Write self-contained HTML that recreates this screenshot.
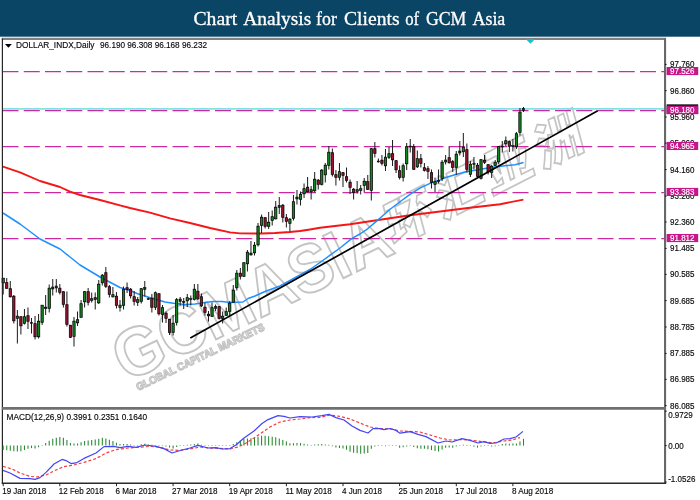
<!DOCTYPE html>
<html lang="en"><head><meta charset="utf-8"><title>Chart Analysis for Clients of GCM Asia</title>
<style>
html,body{margin:0;padding:0;background:#fff;width:700px;height:500px;overflow:hidden}
svg{display:block}
.ax{font-family:"Liberation Sans","DejaVu Sans",sans-serif;font-size:8.6px;fill:#0a0a0a;stroke:#0a0a0a;stroke-width:.15px}
.ax line{stroke-width:1px}
.lb{font-family:"Liberation Sans","DejaVu Sans",sans-serif;font-size:8.6px;fill:#fff;stroke:#fff;stroke-width:.15px}
.ttl{font-family:"Liberation Serif","DejaVu Serif",serif;font-size:19px;fill:#fff;stroke:#fff;stroke-width:.3px}
.wm{font-family:"Liberation Sans","Noto Sans CJK SC",sans-serif;font-weight:bold;fill:none;stroke:#c4c4c4}
</style></head><body>
<svg width="700" height="500" viewBox="0 0 700 500">
<rect width="700" height="500" fill="#fff"/>
<rect x="0" y="0" width="700" height="36.7" fill="#0b4566"/>
<text class="ttl" y="25"><tspan x="193.5" textLength="43.7" lengthAdjust="spacingAndGlyphs">Chart</tspan> <tspan x="243.3" textLength="68.0" lengthAdjust="spacingAndGlyphs">Analysis</tspan> <tspan x="316.1" textLength="20.7" lengthAdjust="spacingAndGlyphs">for</tspan> <tspan x="344" textLength="55.6" lengthAdjust="spacingAndGlyphs">Clients</tspan> <tspan x="405.2" textLength="13.9" lengthAdjust="spacingAndGlyphs">of</tspan> <tspan x="425.9" textLength="40.5" lengthAdjust="spacingAndGlyphs">GCM</tspan> <tspan x="472.5" textLength="32.8" lengthAdjust="spacingAndGlyphs">Asia</tspan></text>
<g class="wm" transform="translate(126.5,382.5) rotate(-25.7)">
<text x="0" y="0" font-size="68" stroke-width="1.9" textLength="300" lengthAdjust="spacingAndGlyphs">GCMASIA</text>
<text transform="translate(296,-8.5) rotate(-1.3) skewX(-12)" x="3 59 115 171" y="0" font-size="49" font-weight="900" stroke-width="1.7">环汇亚洲</text>
<text x="7" y="12.6" font-size="10.5" stroke-width="1.2" textLength="141" lengthAdjust="spacingAndGlyphs">GLOBAL CAPITAL MARKETS</text>
</g>
<g stroke="#cc2a9e" stroke-width="1.25" stroke-dasharray="16 5.25" fill="none">
<line x1="2.5" y1="71.6" x2="664" y2="71.6"/>
<line x1="2.5" y1="110.7" x2="664" y2="110.7"/>
<line x1="2.5" y1="146.5" x2="664" y2="146.5"/>
<line x1="2.5" y1="192.5" x2="664" y2="192.5"/>
<line x1="2.5" y1="238.6" x2="664" y2="238.6"/>
</g>
<line x1="3" y1="108.9" x2="665" y2="108.9" stroke="#7fe3e6" stroke-width="1.8"/>
<polyline points="3.0,166.6 20.0,172.4 40.0,181.0 60.0,187.0 70.0,191.6 80.0,195.0 100.0,200.0 120.0,205.4 130.0,208.0 150.0,212.6 170.0,218.4 190.0,223.0 210.0,228.0 230.0,232.4 240.0,233.4 262.0,233.5 275.0,233.0 290.0,232.0 300.0,231.0 310.0,229.5 320.0,227.8 335.0,226.0 350.0,224.3 380.0,219.8 410.0,215.3 440.0,211.5 470.0,207.8 500.0,204.2 523.4,199.6" fill="none" stroke="#f51616" stroke-width="1.9" stroke-linejoin="round"/>
<polyline points="3.0,213.0 20.0,224.0 40.0,239.0 60.0,249.0 70.0,257.0 80.0,265.0 100.0,277.0 120.0,287.5 130.0,290.5 137.0,293.5 151.0,298.0 165.0,302.0 175.0,303.5 185.0,304.5 195.0,304.0 205.0,302.5 213.0,301.5 222.0,301.5 230.0,302.5 243.0,302.0 248.0,298.5 255.0,296.0 265.0,291.5 280.0,286.0 290.0,280.5 310.0,269.5 320.0,262.5 340.0,248.0 352.0,238.4 360.0,234.0 367.6,228.8 376.0,221.6 383.0,215.5 390.4,209.0 402.4,200.0 410.0,194.3 420.0,188.2 430.0,183.3 440.0,180.0 445.0,177.8 455.0,174.7 465.0,172.0 475.0,170.3 485.0,168.5 495.0,167.0 505.0,165.7 515.0,164.7 523.5,162.5" fill="none" stroke="#1e90ff" stroke-width="1.5" stroke-linejoin="round"/>
<g stroke="#000">
<line x1="3.20" y1="278" x2="3.20" y2="294.5" stroke="#1a1a1a" stroke-width="1"/>
<rect x="2.05" y="278.2" width="2.3" height="4.6" fill="#12861f" stroke-width="0.75"/>
<line x1="6.74" y1="278" x2="6.74" y2="288.5" stroke="#1a1a1a" stroke-width="1"/>
<rect x="5.59" y="282.7" width="2.3" height="5.6" fill="#9e1230" stroke-width="0.75"/>
<line x1="10.28" y1="281" x2="10.28" y2="297.5" stroke="#1a1a1a" stroke-width="1"/>
<rect x="9.13" y="288.7" width="2.3" height="8.1" fill="#9e1230" stroke-width="0.75"/>
<line x1="13.82" y1="295" x2="13.82" y2="323.5" stroke="#1a1a1a" stroke-width="1"/>
<rect x="12.67" y="296.2" width="2.3" height="24.6" fill="#9e1230" stroke-width="0.75"/>
<line x1="17.36" y1="310" x2="17.36" y2="343.5" stroke="#1a1a1a" stroke-width="1"/>
<rect x="16.21" y="316.2" width="2.3" height="2.1" fill="#12861f" stroke-width="0.75"/>
<line x1="20.90" y1="316.5" x2="20.90" y2="334.5" stroke="#1a1a1a" stroke-width="1"/>
<rect x="19.75" y="316.7" width="2.3" height="9.1" fill="#9e1230" stroke-width="0.75"/>
<line x1="24.44" y1="309" x2="24.44" y2="324.5" stroke="#1a1a1a" stroke-width="1"/>
<rect x="23.29" y="316.7" width="2.3" height="6.6" fill="#12861f" stroke-width="0.75"/>
<line x1="27.98" y1="307.5" x2="27.98" y2="329" stroke="#1a1a1a" stroke-width="1"/>
<rect x="26.83" y="315.7" width="2.3" height="5.6" fill="#9e1230" stroke-width="0.75"/>
<line x1="31.52" y1="318" x2="31.52" y2="333.5" stroke="#1a1a1a" stroke-width="1"/>
<rect x="30.32" y="322.5" width="2.4" height="1.0" fill="#0a3a10" stroke-width="0.5"/>
<line x1="35.06" y1="316" x2="35.06" y2="339.5" stroke="#1a1a1a" stroke-width="1"/>
<rect x="33.91" y="323.7" width="2.3" height="13.1" fill="#9e1230" stroke-width="0.75"/>
<line x1="38.59" y1="314" x2="38.59" y2="338.5" stroke="#1a1a1a" stroke-width="1"/>
<rect x="37.45" y="321.2" width="2.3" height="15.6" fill="#12861f" stroke-width="0.75"/>
<line x1="42.13" y1="305" x2="42.13" y2="325" stroke="#1a1a1a" stroke-width="1"/>
<rect x="40.98" y="305.2" width="2.3" height="17.1" fill="#12861f" stroke-width="0.75"/>
<line x1="45.67" y1="295" x2="45.67" y2="315" stroke="#1a1a1a" stroke-width="1"/>
<rect x="44.52" y="307.2" width="2.3" height="1.1" fill="#12861f" stroke-width="0.75"/>
<line x1="49.21" y1="284.5" x2="49.21" y2="312.5" stroke="#1a1a1a" stroke-width="1"/>
<rect x="48.06" y="288.2" width="2.3" height="20.1" fill="#12861f" stroke-width="0.75"/>
<line x1="52.75" y1="279" x2="52.75" y2="295.5" stroke="#1a1a1a" stroke-width="1"/>
<rect x="51.55" y="287" width="2.4" height="2" fill="#0a3a10" stroke-width="0.5"/>
<line x1="56.29" y1="279" x2="56.29" y2="292.5" stroke="#1a1a1a" stroke-width="1"/>
<rect x="55.09" y="286" width="2.4" height="2" fill="#0a3a10" stroke-width="0.5"/>
<line x1="59.83" y1="284" x2="59.83" y2="294.5" stroke="#1a1a1a" stroke-width="1"/>
<rect x="58.68" y="288.2" width="2.3" height="4.1" fill="#9e1230" stroke-width="0.75"/>
<line x1="63.37" y1="291.5" x2="63.37" y2="307.5" stroke="#1a1a1a" stroke-width="1"/>
<rect x="62.22" y="291.7" width="2.3" height="12.6" fill="#9e1230" stroke-width="0.75"/>
<line x1="66.91" y1="291.5" x2="66.91" y2="326.5" stroke="#1a1a1a" stroke-width="1"/>
<rect x="65.76" y="304.7" width="2.3" height="19.6" fill="#9e1230" stroke-width="0.75"/>
<line x1="70.45" y1="325" x2="70.45" y2="338" stroke="#1a1a1a" stroke-width="1"/>
<rect x="69.30" y="325.2" width="2.3" height="12.1" fill="#9e1230" stroke-width="0.75"/>
<line x1="73.99" y1="317" x2="73.99" y2="346.5" stroke="#1a1a1a" stroke-width="1"/>
<rect x="72.84" y="321.2" width="2.3" height="15.1" fill="#12861f" stroke-width="0.75"/>
<line x1="77.53" y1="311.5" x2="77.53" y2="326" stroke="#1a1a1a" stroke-width="1"/>
<rect x="76.38" y="319.7" width="2.3" height="3.1" fill="#12861f" stroke-width="0.75"/>
<line x1="81.07" y1="300" x2="81.07" y2="317.5" stroke="#1a1a1a" stroke-width="1"/>
<rect x="79.92" y="303.7" width="2.3" height="13.6" fill="#12861f" stroke-width="0.75"/>
<line x1="84.61" y1="291" x2="84.61" y2="307.5" stroke="#1a1a1a" stroke-width="1"/>
<rect x="83.46" y="291.7" width="2.3" height="10.1" fill="#12861f" stroke-width="0.75"/>
<line x1="88.15" y1="288" x2="88.15" y2="305.5" stroke="#1a1a1a" stroke-width="1"/>
<rect x="87.00" y="291.7" width="2.3" height="10.6" fill="#9e1230" stroke-width="0.75"/>
<line x1="91.69" y1="292.5" x2="91.69" y2="302.5" stroke="#1a1a1a" stroke-width="1"/>
<rect x="90.54" y="298.7" width="2.3" height="1.6" fill="#12861f" stroke-width="0.75"/>
<line x1="95.23" y1="292.5" x2="95.23" y2="309.5" stroke="#1a1a1a" stroke-width="1"/>
<rect x="94.08" y="297.7" width="2.3" height="1.6" fill="#9e1230" stroke-width="0.75"/>
<line x1="98.77" y1="280" x2="98.77" y2="304" stroke="#1a1a1a" stroke-width="1"/>
<rect x="97.62" y="284.2" width="2.3" height="18.6" fill="#12861f" stroke-width="0.75"/>
<line x1="102.31" y1="274" x2="102.31" y2="285.5" stroke="#1a1a1a" stroke-width="1"/>
<rect x="101.16" y="275.2" width="2.3" height="7.6" fill="#12861f" stroke-width="0.75"/>
<line x1="105.85" y1="267" x2="105.85" y2="288" stroke="#1a1a1a" stroke-width="1"/>
<rect x="104.70" y="272.7" width="2.3" height="13.6" fill="#9e1230" stroke-width="0.75"/>
<line x1="109.39" y1="285" x2="109.39" y2="297.5" stroke="#1a1a1a" stroke-width="1"/>
<rect x="108.23" y="286.7" width="2.3" height="7.6" fill="#9e1230" stroke-width="0.75"/>
<line x1="112.92" y1="287" x2="112.92" y2="297.5" stroke="#1a1a1a" stroke-width="1"/>
<rect x="111.77" y="294.7" width="2.3" height="2.1" fill="#12861f" stroke-width="0.75"/>
<line x1="116.46" y1="292" x2="116.46" y2="308.5" stroke="#1a1a1a" stroke-width="1"/>
<rect x="115.31" y="296.2" width="2.3" height="9.1" fill="#9e1230" stroke-width="0.75"/>
<line x1="120.00" y1="300" x2="120.00" y2="311.5" stroke="#1a1a1a" stroke-width="1"/>
<rect x="118.85" y="305.2" width="2.3" height="2.1" fill="#12861f" stroke-width="0.75"/>
<line x1="123.54" y1="286.5" x2="123.54" y2="309.5" stroke="#1a1a1a" stroke-width="1"/>
<rect x="122.39" y="289.2" width="2.3" height="16.1" fill="#12861f" stroke-width="0.75"/>
<line x1="127.08" y1="282.5" x2="127.08" y2="293" stroke="#1a1a1a" stroke-width="1"/>
<rect x="125.93" y="287.7" width="2.3" height="1.6" fill="#9e1230" stroke-width="0.75"/>
<line x1="130.62" y1="288" x2="130.62" y2="298.5" stroke="#1a1a1a" stroke-width="1"/>
<rect x="129.47" y="289.2" width="2.3" height="6.6" fill="#9e1230" stroke-width="0.75"/>
<line x1="134.16" y1="291" x2="134.16" y2="305.5" stroke="#1a1a1a" stroke-width="1"/>
<rect x="133.01" y="296.7" width="2.3" height="4.6" fill="#9e1230" stroke-width="0.75"/>
<line x1="137.70" y1="297" x2="137.70" y2="306" stroke="#1a1a1a" stroke-width="1"/>
<rect x="136.55" y="299.7" width="2.3" height="2.6" fill="#12861f" stroke-width="0.75"/>
<line x1="141.24" y1="288" x2="141.24" y2="303.5" stroke="#1a1a1a" stroke-width="1"/>
<rect x="140.09" y="288.7" width="2.3" height="12.6" fill="#12861f" stroke-width="0.75"/>
<line x1="144.78" y1="281" x2="144.78" y2="296.5" stroke="#1a1a1a" stroke-width="1"/>
<rect x="143.58" y="287.5" width="2.4" height="2.0" fill="#0a3a10" stroke-width="0.5"/>
<line x1="148.32" y1="297.5" x2="148.32" y2="300" stroke="#1a1a1a" stroke-width="1"/>
<rect x="147.12" y="298.5" width="2.4" height="1.0" fill="#0a3a10" stroke-width="0.5"/>
<line x1="151.86" y1="294" x2="151.86" y2="312.5" stroke="#1a1a1a" stroke-width="1"/>
<rect x="150.71" y="298.2" width="2.3" height="9.1" fill="#9e1230" stroke-width="0.75"/>
<line x1="155.40" y1="291.5" x2="155.40" y2="310" stroke="#1a1a1a" stroke-width="1"/>
<rect x="154.25" y="292.7" width="2.3" height="14.6" fill="#12861f" stroke-width="0.75"/>
<line x1="158.94" y1="293.5" x2="158.94" y2="315.5" stroke="#1a1a1a" stroke-width="1"/>
<rect x="157.79" y="293.7" width="2.3" height="20.1" fill="#9e1230" stroke-width="0.75"/>
<line x1="162.48" y1="305" x2="162.48" y2="322.5" stroke="#1a1a1a" stroke-width="1"/>
<rect x="161.33" y="307.7" width="2.3" height="6.6" fill="#12861f" stroke-width="0.75"/>
<line x1="166.02" y1="311.5" x2="166.02" y2="323" stroke="#1a1a1a" stroke-width="1"/>
<rect x="164.87" y="313.2" width="2.3" height="5.1" fill="#9e1230" stroke-width="0.75"/>
<line x1="169.56" y1="319" x2="169.56" y2="335" stroke="#1a1a1a" stroke-width="1"/>
<rect x="168.41" y="319.2" width="2.3" height="13.1" fill="#9e1230" stroke-width="0.75"/>
<line x1="173.10" y1="315" x2="173.10" y2="335.5" stroke="#1a1a1a" stroke-width="1"/>
<rect x="171.95" y="323.2" width="2.3" height="9.1" fill="#12861f" stroke-width="0.75"/>
<line x1="176.64" y1="298" x2="176.64" y2="325.5" stroke="#1a1a1a" stroke-width="1"/>
<rect x="175.49" y="299.7" width="2.3" height="22.6" fill="#12861f" stroke-width="0.75"/>
<line x1="180.17" y1="297" x2="180.17" y2="305.5" stroke="#1a1a1a" stroke-width="1"/>
<rect x="178.97" y="299" width="2.4" height="2.5" fill="#0a3a10" stroke-width="0.5"/>
<line x1="183.71" y1="298" x2="183.71" y2="309" stroke="#1a1a1a" stroke-width="1"/>
<rect x="182.51" y="301.5" width="2.4" height="1.0" fill="#0a3a10" stroke-width="0.5"/>
<line x1="187.25" y1="294" x2="187.25" y2="307" stroke="#1a1a1a" stroke-width="1"/>
<rect x="186.10" y="297.7" width="2.3" height="3.1" fill="#12861f" stroke-width="0.75"/>
<line x1="190.79" y1="295.5" x2="190.79" y2="305.5" stroke="#1a1a1a" stroke-width="1"/>
<rect x="189.59" y="298.5" width="2.4" height="1.0" fill="#0a3a10" stroke-width="0.5"/>
<line x1="194.33" y1="284" x2="194.33" y2="300.5" stroke="#1a1a1a" stroke-width="1"/>
<rect x="193.18" y="289.2" width="2.3" height="10.1" fill="#12861f" stroke-width="0.75"/>
<line x1="197.87" y1="284" x2="197.87" y2="300" stroke="#1a1a1a" stroke-width="1"/>
<rect x="196.72" y="291.2" width="2.3" height="7.6" fill="#9e1230" stroke-width="0.75"/>
<line x1="201.41" y1="293.5" x2="201.41" y2="307" stroke="#1a1a1a" stroke-width="1"/>
<rect x="200.26" y="296.7" width="2.3" height="9.1" fill="#9e1230" stroke-width="0.75"/>
<line x1="204.95" y1="302.5" x2="204.95" y2="315.5" stroke="#1a1a1a" stroke-width="1"/>
<rect x="203.80" y="307.2" width="2.3" height="5.1" fill="#9e1230" stroke-width="0.75"/>
<line x1="208.49" y1="311" x2="208.49" y2="321.5" stroke="#1a1a1a" stroke-width="1"/>
<rect x="207.34" y="314.2" width="2.3" height="1.6" fill="#9e1230" stroke-width="0.75"/>
<line x1="212.03" y1="302.5" x2="212.03" y2="317" stroke="#1a1a1a" stroke-width="1"/>
<rect x="210.88" y="307.7" width="2.3" height="8.6" fill="#12861f" stroke-width="0.75"/>
<line x1="215.57" y1="304.5" x2="215.57" y2="311" stroke="#1a1a1a" stroke-width="1"/>
<rect x="214.37" y="306.5" width="2.4" height="2.0" fill="#0a3a10" stroke-width="0.5"/>
<line x1="219.11" y1="306" x2="219.11" y2="319.5" stroke="#1a1a1a" stroke-width="1"/>
<rect x="217.96" y="306.7" width="2.3" height="11.6" fill="#9e1230" stroke-width="0.75"/>
<line x1="222.65" y1="311.5" x2="222.65" y2="323.5" stroke="#1a1a1a" stroke-width="1"/>
<rect x="221.50" y="316.2" width="2.3" height="2.1" fill="#12861f" stroke-width="0.75"/>
<line x1="226.19" y1="307.5" x2="226.19" y2="316" stroke="#1a1a1a" stroke-width="1"/>
<rect x="225.04" y="311.7" width="2.3" height="3.6" fill="#12861f" stroke-width="0.75"/>
<line x1="229.73" y1="301" x2="229.73" y2="315.5" stroke="#1a1a1a" stroke-width="1"/>
<rect x="228.58" y="303.2" width="2.3" height="8.1" fill="#12861f" stroke-width="0.75"/>
<line x1="233.27" y1="285" x2="233.27" y2="302.5" stroke="#1a1a1a" stroke-width="1"/>
<rect x="232.12" y="290.2" width="2.3" height="12.1" fill="#12861f" stroke-width="0.75"/>
<line x1="236.81" y1="270" x2="236.81" y2="290.5" stroke="#1a1a1a" stroke-width="1"/>
<rect x="235.66" y="273.2" width="2.3" height="14.6" fill="#12861f" stroke-width="0.75"/>
<line x1="240.35" y1="268" x2="240.35" y2="279.5" stroke="#1a1a1a" stroke-width="1"/>
<rect x="239.20" y="273.2" width="2.3" height="3.1" fill="#9e1230" stroke-width="0.75"/>
<line x1="243.89" y1="262.5" x2="243.89" y2="277" stroke="#1a1a1a" stroke-width="1"/>
<rect x="242.74" y="262.7" width="2.3" height="13.6" fill="#12861f" stroke-width="0.75"/>
<line x1="247.43" y1="250" x2="247.43" y2="271.5" stroke="#1a1a1a" stroke-width="1"/>
<rect x="246.28" y="252.2" width="2.3" height="11.6" fill="#12861f" stroke-width="0.75"/>
<line x1="250.96" y1="241" x2="250.96" y2="255.5" stroke="#1a1a1a" stroke-width="1"/>
<rect x="249.76" y="253" width="2.4" height="2" fill="#0a3a10" stroke-width="0.5"/>
<line x1="254.50" y1="242" x2="254.50" y2="255.5" stroke="#1a1a1a" stroke-width="1"/>
<rect x="253.35" y="245.2" width="2.3" height="7.6" fill="#12861f" stroke-width="0.75"/>
<line x1="258.04" y1="223" x2="258.04" y2="246.5" stroke="#1a1a1a" stroke-width="1"/>
<rect x="256.89" y="226.2" width="2.3" height="18.6" fill="#12861f" stroke-width="0.75"/>
<line x1="261.58" y1="214.5" x2="261.58" y2="233" stroke="#1a1a1a" stroke-width="1"/>
<rect x="260.43" y="217.2" width="2.3" height="8.1" fill="#12861f" stroke-width="0.75"/>
<line x1="265.12" y1="217" x2="265.12" y2="228.5" stroke="#1a1a1a" stroke-width="1"/>
<rect x="263.97" y="217.7" width="2.3" height="8.6" fill="#9e1230" stroke-width="0.75"/>
<line x1="268.66" y1="212" x2="268.66" y2="229" stroke="#1a1a1a" stroke-width="1"/>
<rect x="267.51" y="222.2" width="2.3" height="4.1" fill="#12861f" stroke-width="0.75"/>
<line x1="272.20" y1="210.5" x2="272.20" y2="225.5" stroke="#1a1a1a" stroke-width="1"/>
<rect x="271.05" y="216.7" width="2.3" height="3.6" fill="#12861f" stroke-width="0.75"/>
<line x1="275.74" y1="201" x2="275.74" y2="219.5" stroke="#1a1a1a" stroke-width="1"/>
<rect x="274.59" y="207.2" width="2.3" height="11.6" fill="#12861f" stroke-width="0.75"/>
<line x1="279.28" y1="197" x2="279.28" y2="214" stroke="#1a1a1a" stroke-width="1"/>
<rect x="278.08" y="205.5" width="2.4" height="2.0" fill="#0a3a10" stroke-width="0.5"/>
<line x1="282.82" y1="204" x2="282.82" y2="222.5" stroke="#1a1a1a" stroke-width="1"/>
<rect x="281.67" y="205.2" width="2.3" height="12.1" fill="#9e1230" stroke-width="0.75"/>
<line x1="286.36" y1="214" x2="286.36" y2="227.5" stroke="#1a1a1a" stroke-width="1"/>
<rect x="285.21" y="217.7" width="2.3" height="3.6" fill="#9e1230" stroke-width="0.75"/>
<line x1="289.90" y1="218" x2="289.90" y2="231.5" stroke="#1a1a1a" stroke-width="1"/>
<rect x="288.75" y="219.2" width="2.3" height="4.1" fill="#12861f" stroke-width="0.75"/>
<line x1="293.44" y1="195" x2="293.44" y2="220.5" stroke="#1a1a1a" stroke-width="1"/>
<rect x="292.29" y="201.7" width="2.3" height="16.6" fill="#12861f" stroke-width="0.75"/>
<line x1="296.98" y1="190" x2="296.98" y2="204.5" stroke="#1a1a1a" stroke-width="1"/>
<rect x="295.78" y="197" width="2.4" height="2" fill="#0a3a10" stroke-width="0.5"/>
<line x1="300.52" y1="191.5" x2="300.52" y2="205.5" stroke="#1a1a1a" stroke-width="1"/>
<rect x="299.37" y="194.2" width="2.3" height="5.1" fill="#12861f" stroke-width="0.75"/>
<line x1="304.06" y1="183.5" x2="304.06" y2="198" stroke="#1a1a1a" stroke-width="1"/>
<rect x="302.91" y="188.7" width="2.3" height="5.1" fill="#12861f" stroke-width="0.75"/>
<line x1="307.60" y1="177" x2="307.60" y2="192.5" stroke="#1a1a1a" stroke-width="1"/>
<rect x="306.45" y="187.2" width="2.3" height="4.6" fill="#9e1230" stroke-width="0.75"/>
<line x1="311.14" y1="186" x2="311.14" y2="199.5" stroke="#1a1a1a" stroke-width="1"/>
<rect x="309.99" y="189.7" width="2.3" height="2.1" fill="#12861f" stroke-width="0.75"/>
<line x1="314.68" y1="172" x2="314.68" y2="192.5" stroke="#1a1a1a" stroke-width="1"/>
<rect x="313.53" y="179.2" width="2.3" height="11.6" fill="#12861f" stroke-width="0.75"/>
<line x1="318.22" y1="179" x2="318.22" y2="189.5" stroke="#1a1a1a" stroke-width="1"/>
<rect x="317.07" y="180.2" width="2.3" height="4.1" fill="#9e1230" stroke-width="0.75"/>
<line x1="321.75" y1="169" x2="321.75" y2="185.5" stroke="#1a1a1a" stroke-width="1"/>
<rect x="320.61" y="170.2" width="2.3" height="14.1" fill="#12861f" stroke-width="0.75"/>
<line x1="325.29" y1="163" x2="325.29" y2="182.5" stroke="#1a1a1a" stroke-width="1"/>
<rect x="324.14" y="165.2" width="2.3" height="9.6" fill="#12861f" stroke-width="0.75"/>
<line x1="328.83" y1="146" x2="328.83" y2="169.5" stroke="#1a1a1a" stroke-width="1"/>
<rect x="327.68" y="152.2" width="2.3" height="13.1" fill="#12861f" stroke-width="0.75"/>
<line x1="332.37" y1="148.5" x2="332.37" y2="176.5" stroke="#1a1a1a" stroke-width="1"/>
<rect x="331.22" y="152.7" width="2.3" height="21.6" fill="#9e1230" stroke-width="0.75"/>
<line x1="335.91" y1="170" x2="335.91" y2="185.5" stroke="#1a1a1a" stroke-width="1"/>
<rect x="334.76" y="174.7" width="2.3" height="2.6" fill="#9e1230" stroke-width="0.75"/>
<line x1="339.45" y1="163" x2="339.45" y2="180.5" stroke="#1a1a1a" stroke-width="1"/>
<rect x="338.30" y="171.7" width="2.3" height="5.6" fill="#12861f" stroke-width="0.75"/>
<line x1="342.99" y1="172" x2="342.99" y2="187" stroke="#1a1a1a" stroke-width="1"/>
<rect x="341.84" y="172.7" width="2.3" height="2.6" fill="#9e1230" stroke-width="0.75"/>
<line x1="346.53" y1="167.5" x2="346.53" y2="182.5" stroke="#1a1a1a" stroke-width="1"/>
<rect x="345.38" y="176.7" width="2.3" height="3.6" fill="#9e1230" stroke-width="0.75"/>
<line x1="350.07" y1="179.5" x2="350.07" y2="194" stroke="#1a1a1a" stroke-width="1"/>
<rect x="348.92" y="182.2" width="2.3" height="5.1" fill="#9e1230" stroke-width="0.75"/>
<line x1="353.61" y1="188" x2="353.61" y2="199.5" stroke="#1a1a1a" stroke-width="1"/>
<rect x="352.46" y="189.2" width="2.3" height="3.1" fill="#9e1230" stroke-width="0.75"/>
<line x1="357.15" y1="181" x2="357.15" y2="193.5" stroke="#1a1a1a" stroke-width="1"/>
<rect x="356.00" y="189.7" width="2.3" height="1.6" fill="#12861f" stroke-width="0.75"/>
<line x1="360.69" y1="185" x2="360.69" y2="194.5" stroke="#1a1a1a" stroke-width="1"/>
<rect x="359.54" y="188.7" width="2.3" height="1.6" fill="#12861f" stroke-width="0.75"/>
<line x1="364.23" y1="178" x2="364.23" y2="192" stroke="#1a1a1a" stroke-width="1"/>
<rect x="363.08" y="181.2" width="2.3" height="4.1" fill="#12861f" stroke-width="0.75"/>
<line x1="367.77" y1="175" x2="367.77" y2="190" stroke="#1a1a1a" stroke-width="1"/>
<rect x="366.62" y="181.7" width="2.3" height="7.6" fill="#9e1230" stroke-width="0.75"/>
<line x1="371.31" y1="148" x2="371.31" y2="200.5" stroke="#1a1a1a" stroke-width="1"/>
<rect x="370.16" y="148.7" width="2.3" height="41.6" fill="#12861f" stroke-width="0.75"/>
<line x1="374.85" y1="142" x2="374.85" y2="157.5" stroke="#1a1a1a" stroke-width="1"/>
<rect x="373.70" y="148.7" width="2.3" height="4.6" fill="#9e1230" stroke-width="0.75"/>
<line x1="378.39" y1="158.5" x2="378.39" y2="162.5" stroke="#1a1a1a" stroke-width="1"/>
<rect x="377.19" y="161" width="2.4" height="1" fill="#0a3a10" stroke-width="0.5"/>
<line x1="381.93" y1="155" x2="381.93" y2="165.5" stroke="#1a1a1a" stroke-width="1"/>
<rect x="380.78" y="160.2" width="2.3" height="3.1" fill="#9e1230" stroke-width="0.75"/>
<line x1="385.47" y1="149" x2="385.47" y2="171" stroke="#1a1a1a" stroke-width="1"/>
<rect x="384.32" y="157.2" width="2.3" height="8.6" fill="#12861f" stroke-width="0.75"/>
<line x1="389.01" y1="147" x2="389.01" y2="159" stroke="#1a1a1a" stroke-width="1"/>
<rect x="387.86" y="153.7" width="2.3" height="3.6" fill="#12861f" stroke-width="0.75"/>
<line x1="392.54" y1="140" x2="392.54" y2="166" stroke="#1a1a1a" stroke-width="1"/>
<rect x="391.39" y="153.7" width="2.3" height="6.1" fill="#9e1230" stroke-width="0.75"/>
<line x1="396.08" y1="160" x2="396.08" y2="173" stroke="#1a1a1a" stroke-width="1"/>
<rect x="394.93" y="160.7" width="2.3" height="9.1" fill="#9e1230" stroke-width="0.75"/>
<line x1="399.62" y1="165.5" x2="399.62" y2="179.5" stroke="#1a1a1a" stroke-width="1"/>
<rect x="398.47" y="170.7" width="2.3" height="6.6" fill="#9e1230" stroke-width="0.75"/>
<line x1="403.16" y1="163.5" x2="403.16" y2="181.5" stroke="#1a1a1a" stroke-width="1"/>
<rect x="402.01" y="165.7" width="2.3" height="11.6" fill="#12861f" stroke-width="0.75"/>
<line x1="406.70" y1="143" x2="406.70" y2="170" stroke="#1a1a1a" stroke-width="1"/>
<rect x="405.55" y="146.7" width="2.3" height="17.1" fill="#12861f" stroke-width="0.75"/>
<line x1="410.24" y1="139" x2="410.24" y2="152.5" stroke="#1a1a1a" stroke-width="1"/>
<rect x="409.04" y="146" width="2.4" height="1" fill="#0a3a10" stroke-width="0.5"/>
<line x1="413.78" y1="144" x2="413.78" y2="170" stroke="#1a1a1a" stroke-width="1"/>
<rect x="412.63" y="146.7" width="2.3" height="22.6" fill="#9e1230" stroke-width="0.75"/>
<line x1="417.32" y1="150.5" x2="417.32" y2="168" stroke="#1a1a1a" stroke-width="1"/>
<rect x="416.17" y="158.7" width="2.3" height="8.1" fill="#12861f" stroke-width="0.75"/>
<line x1="420.86" y1="154" x2="420.86" y2="167.5" stroke="#1a1a1a" stroke-width="1"/>
<rect x="419.71" y="158.7" width="2.3" height="4.6" fill="#9e1230" stroke-width="0.75"/>
<line x1="424.40" y1="163" x2="424.40" y2="171.5" stroke="#1a1a1a" stroke-width="1"/>
<rect x="423.25" y="167.7" width="2.3" height="2.6" fill="#9e1230" stroke-width="0.75"/>
<line x1="427.94" y1="166" x2="427.94" y2="179" stroke="#1a1a1a" stroke-width="1"/>
<rect x="426.79" y="168.7" width="2.3" height="2.6" fill="#9e1230" stroke-width="0.75"/>
<line x1="431.48" y1="169.5" x2="431.48" y2="188.5" stroke="#1a1a1a" stroke-width="1"/>
<rect x="430.33" y="172.7" width="2.3" height="9.6" fill="#9e1230" stroke-width="0.75"/>
<line x1="435.02" y1="177.5" x2="435.02" y2="192" stroke="#1a1a1a" stroke-width="1"/>
<rect x="433.87" y="181.7" width="2.3" height="2.6" fill="#12861f" stroke-width="0.75"/>
<line x1="438.56" y1="169.5" x2="438.56" y2="183.5" stroke="#1a1a1a" stroke-width="1"/>
<rect x="437.36" y="180.5" width="2.4" height="1.0" fill="#0a3a10" stroke-width="0.5"/>
<line x1="442.10" y1="160" x2="442.10" y2="181" stroke="#1a1a1a" stroke-width="1"/>
<rect x="440.95" y="162.2" width="2.3" height="16.1" fill="#12861f" stroke-width="0.75"/>
<line x1="445.64" y1="155" x2="445.64" y2="164.5" stroke="#1a1a1a" stroke-width="1"/>
<rect x="444.44" y="160" width="2.4" height="2" fill="#0a3a10" stroke-width="0.5"/>
<line x1="449.18" y1="146.5" x2="449.18" y2="163.5" stroke="#1a1a1a" stroke-width="1"/>
<rect x="448.03" y="157.7" width="2.3" height="5.1" fill="#9e1230" stroke-width="0.75"/>
<line x1="452.72" y1="160" x2="452.72" y2="172" stroke="#1a1a1a" stroke-width="1"/>
<rect x="451.57" y="161.7" width="2.3" height="5.6" fill="#9e1230" stroke-width="0.75"/>
<line x1="456.26" y1="151" x2="456.26" y2="175" stroke="#1a1a1a" stroke-width="1"/>
<rect x="455.11" y="154.2" width="2.3" height="13.1" fill="#12861f" stroke-width="0.75"/>
<line x1="459.80" y1="141" x2="459.80" y2="155.5" stroke="#1a1a1a" stroke-width="1"/>
<rect x="458.60" y="151" width="2.4" height="2" fill="#0a3a10" stroke-width="0.5"/>
<line x1="463.33" y1="133" x2="463.33" y2="157" stroke="#1a1a1a" stroke-width="1"/>
<rect x="462.19" y="147.2" width="2.3" height="4.6" fill="#12861f" stroke-width="0.75"/>
<line x1="466.87" y1="143.5" x2="466.87" y2="172.5" stroke="#1a1a1a" stroke-width="1"/>
<rect x="465.72" y="149.7" width="2.3" height="19.6" fill="#9e1230" stroke-width="0.75"/>
<line x1="470.41" y1="161" x2="470.41" y2="177" stroke="#1a1a1a" stroke-width="1"/>
<rect x="469.26" y="164.2" width="2.3" height="10.1" fill="#12861f" stroke-width="0.75"/>
<line x1="473.95" y1="157" x2="473.95" y2="169.5" stroke="#1a1a1a" stroke-width="1"/>
<rect x="472.75" y="163.5" width="2.4" height="1.0" fill="#0a3a10" stroke-width="0.5"/>
<line x1="477.49" y1="163" x2="477.49" y2="177.5" stroke="#1a1a1a" stroke-width="1"/>
<rect x="476.34" y="165.2" width="2.3" height="11.1" fill="#9e1230" stroke-width="0.75"/>
<line x1="481.03" y1="159" x2="481.03" y2="179.5" stroke="#1a1a1a" stroke-width="1"/>
<rect x="479.88" y="159.7" width="2.3" height="18.6" fill="#12861f" stroke-width="0.75"/>
<line x1="484.57" y1="155" x2="484.57" y2="164" stroke="#1a1a1a" stroke-width="1"/>
<rect x="483.42" y="160.2" width="2.3" height="2.1" fill="#9e1230" stroke-width="0.75"/>
<line x1="488.11" y1="164" x2="488.11" y2="174.5" stroke="#1a1a1a" stroke-width="1"/>
<rect x="486.96" y="164.7" width="2.3" height="7.1" fill="#9e1230" stroke-width="0.75"/>
<line x1="491.65" y1="165" x2="491.65" y2="178" stroke="#1a1a1a" stroke-width="1"/>
<rect x="490.50" y="166.2" width="2.3" height="6.1" fill="#12861f" stroke-width="0.75"/>
<line x1="495.19" y1="160" x2="495.19" y2="166" stroke="#1a1a1a" stroke-width="1"/>
<rect x="494.04" y="162.2" width="2.3" height="3.1" fill="#12861f" stroke-width="0.75"/>
<line x1="498.73" y1="146" x2="498.73" y2="164" stroke="#1a1a1a" stroke-width="1"/>
<rect x="497.58" y="146.7" width="2.3" height="15.1" fill="#12861f" stroke-width="0.75"/>
<line x1="502.27" y1="141" x2="502.27" y2="152.5" stroke="#1a1a1a" stroke-width="1"/>
<rect x="501.07" y="146" width="2.4" height="1" fill="#0a3a10" stroke-width="0.5"/>
<line x1="505.81" y1="136.5" x2="505.81" y2="146" stroke="#1a1a1a" stroke-width="1"/>
<rect x="504.66" y="140.7" width="2.3" height="3.1" fill="#12861f" stroke-width="0.75"/>
<line x1="509.35" y1="140.5" x2="509.35" y2="152" stroke="#1a1a1a" stroke-width="1"/>
<rect x="508.20" y="141.7" width="2.3" height="4.6" fill="#9e1230" stroke-width="0.75"/>
<line x1="512.89" y1="139" x2="512.89" y2="151.5" stroke="#1a1a1a" stroke-width="1"/>
<rect x="511.69" y="145.5" width="2.4" height="1.0" fill="#0a3a10" stroke-width="0.5"/>
<line x1="516.43" y1="132" x2="516.43" y2="149" stroke="#1a1a1a" stroke-width="1"/>
<rect x="515.28" y="133.7" width="2.3" height="13.1" fill="#12861f" stroke-width="0.75"/>
<line x1="519.97" y1="108" x2="519.97" y2="135.5" stroke="#1a1a1a" stroke-width="1"/>
<rect x="518.82" y="112.2" width="2.3" height="20.1" fill="#12861f" stroke-width="0.75"/>
<line x1="523.51" y1="107" x2="523.51" y2="112" stroke="#1a1a1a" stroke-width="1"/>
<rect x="522.31" y="108.5" width="2.4" height="2.0" fill="#0a3a10" stroke-width="0.5"/>
</g>
<line x1="190.8" y1="337.7" x2="597.3" y2="111.1" stroke="#000" stroke-width="1.7" stroke-linecap="round"/>
<g fill="none">
<line x1="1.8" y1="38.85" x2="666" y2="38.85" stroke="#808080" stroke-width="2.2"/>
<line x1="2.4" y1="38.4" x2="2.4" y2="484" stroke="#262626" stroke-width="1.2"/>
<line x1="665.05" y1="38.4" x2="665.05" y2="484" stroke="#686868" stroke-width="2.1"/>
<line x1="1.8" y1="408.35" x2="666" y2="408.35" stroke="#707070" stroke-width="2.7"/>
<line x1="1.8" y1="483.25" x2="666.1" y2="483.25" stroke="#2a2a2a" stroke-width="1.4"/>
</g>
<polygon points="526,39.2 534.8,39.2 530.4,43.7" fill="#10c4cc"/>
<g class="ax">
<line x1="665" y1="64.4" x2="666.6" y2="64.4" stroke="#111"/>
<text x="670" y="67.3" textLength="24.5" lengthAdjust="spacingAndGlyphs">97.760</text>
<line x1="665" y1="90.6" x2="666.6" y2="90.6" stroke="#111"/>
<text x="670" y="93.5" textLength="24.5" lengthAdjust="spacingAndGlyphs">96.860</text>
<line x1="665" y1="117" x2="666.6" y2="117" stroke="#111"/>
<text x="670" y="119.9" textLength="24.5" lengthAdjust="spacingAndGlyphs">95.960</text>
<line x1="665" y1="143.2" x2="666.6" y2="143.2" stroke="#111"/>
<text x="670" y="146.1" textLength="24.5" lengthAdjust="spacingAndGlyphs">95.060</text>
<line x1="665" y1="169.6" x2="666.6" y2="169.6" stroke="#111"/>
<text x="670" y="172.5" textLength="24.5" lengthAdjust="spacingAndGlyphs">94.160</text>
<line x1="665" y1="196" x2="666.6" y2="196" stroke="#111"/>
<text x="670" y="198.9" textLength="24.5" lengthAdjust="spacingAndGlyphs">93.260</text>
<line x1="665" y1="222" x2="666.6" y2="222" stroke="#111"/>
<text x="670" y="224.9" textLength="24.5" lengthAdjust="spacingAndGlyphs">92.360</text>
<line x1="665" y1="248.4" x2="666.6" y2="248.4" stroke="#111"/>
<text x="670" y="251.3" textLength="24.5" lengthAdjust="spacingAndGlyphs">91.485</text>
<line x1="665" y1="274.4" x2="666.6" y2="274.4" stroke="#111"/>
<text x="670" y="277.3" textLength="24.5" lengthAdjust="spacingAndGlyphs">90.585</text>
<line x1="665" y1="300.6" x2="666.6" y2="300.6" stroke="#111"/>
<text x="670" y="303.5" textLength="24.5" lengthAdjust="spacingAndGlyphs">89.685</text>
<line x1="665" y1="327" x2="666.6" y2="327" stroke="#111"/>
<text x="670" y="329.9" textLength="24.5" lengthAdjust="spacingAndGlyphs">88.785</text>
<line x1="665" y1="353.4" x2="666.6" y2="353.4" stroke="#111"/>
<text x="670" y="356.3" textLength="24.5" lengthAdjust="spacingAndGlyphs">87.885</text>
<line x1="665" y1="379.4" x2="666.6" y2="379.4" stroke="#111"/>
<text x="670" y="382.3" textLength="24.5" lengthAdjust="spacingAndGlyphs">86.985</text>
<line x1="665" y1="405.6" x2="666.6" y2="405.6" stroke="#111"/>
<text x="670" y="408.5" textLength="24.5" lengthAdjust="spacingAndGlyphs">86.085</text>
<line x1="665" y1="411.2" x2="666.6" y2="411.2" stroke="#111"/>
<text x="668.2" y="418.3" textLength="24.5" lengthAdjust="spacingAndGlyphs">0.9729</text>
<line x1="665" y1="445.6" x2="666.6" y2="445.6" stroke="#111"/>
<text x="668.2" y="448.5" textLength="15.6" lengthAdjust="spacingAndGlyphs">0.00</text>
<line x1="665" y1="482" x2="666.6" y2="482" stroke="#111"/>
<text x="668.2" y="481.7" textLength="27.2" lengthAdjust="spacingAndGlyphs">-1.0526</text>
</g>
<rect x="666.6" y="104.3" width="31.6" height="9.6" fill="#222"/>
<rect x="666.6" y="67.0" width="31.6" height="8.1" fill="#c7158a"/>
<text class="lb" x="670" y="74.3" textLength="24.5" lengthAdjust="spacingAndGlyphs">97.526</text>
<rect x="666.6" y="106.1" width="31.6" height="8.1" fill="#c7158a"/>
<text class="lb" x="670" y="113.4" textLength="24.5" lengthAdjust="spacingAndGlyphs">96.180</text>
<rect x="666.6" y="141.9" width="31.6" height="8.1" fill="#c7158a"/>
<text class="lb" x="670" y="149.2" textLength="24.5" lengthAdjust="spacingAndGlyphs">94.965</text>
<rect x="666.6" y="187.9" width="31.6" height="8.1" fill="#c7158a"/>
<text class="lb" x="670" y="195.2" textLength="24.5" lengthAdjust="spacingAndGlyphs">93.383</text>
<rect x="666.6" y="234.0" width="31.6" height="8.1" fill="#c7158a"/>
<text class="lb" x="670" y="241.3" textLength="24.5" lengthAdjust="spacingAndGlyphs">91.812</text>
<polygon points="5.0,44.0 11.8,44.0 8.4,47.8" fill="#000"/>
<text class="ax" x="16.0" y="48.2" textLength="78.5" lengthAdjust="spacingAndGlyphs">DOLLAR_INDX,Daily</text>
<text class="ax" x="100" y="48.2" textLength="107" lengthAdjust="spacingAndGlyphs">96.190 96.308 96.168 96.232</text>
<text class="ax" x="6.6" y="419.5" textLength="140.4" lengthAdjust="spacingAndGlyphs">MACD(12,26,9) 0.3991 0.2351 0.1640</text>
<g stroke="#21882a" stroke-width="1.05">
<line x1="3.20" y1="445.6" x2="3.20" y2="450.0"/>
<line x1="6.74" y1="445.6" x2="6.74" y2="450.3"/>
<line x1="10.28" y1="445.6" x2="10.28" y2="450.7"/>
<line x1="13.82" y1="445.6" x2="13.82" y2="451.3"/>
<line x1="17.36" y1="445.6" x2="17.36" y2="451.4"/>
<line x1="20.90" y1="445.6" x2="20.90" y2="451.2"/>
<line x1="24.44" y1="445.6" x2="24.44" y2="450.0"/>
<line x1="27.98" y1="445.6" x2="27.98" y2="448.7"/>
<line x1="31.52" y1="445.6" x2="31.52" y2="448.1"/>
<line x1="35.06" y1="445.6" x2="35.06" y2="448.4"/>
<line x1="38.59" y1="445.6" x2="38.59" y2="447.2"/>
<line x1="42.13" y1="445.6" x2="42.13" y2="445.1"/>
<line x1="45.67" y1="445.6" x2="45.67" y2="443.0"/>
<line x1="49.21" y1="445.6" x2="49.21" y2="440.8"/>
<line x1="52.75" y1="445.6" x2="52.75" y2="438.7"/>
<line x1="56.29" y1="445.6" x2="56.29" y2="437.7"/>
<line x1="59.83" y1="445.6" x2="59.83" y2="437.1"/>
<line x1="63.37" y1="445.6" x2="63.37" y2="437.8"/>
<line x1="66.91" y1="445.6" x2="66.91" y2="440.1"/>
<line x1="70.45" y1="445.6" x2="70.45" y2="443.1"/>
<line x1="73.99" y1="445.6" x2="73.99" y2="443.5"/>
<line x1="77.53" y1="445.6" x2="77.53" y2="443.6"/>
<line x1="81.07" y1="445.6" x2="81.07" y2="442.3"/>
<line x1="84.61" y1="445.6" x2="84.61" y2="441.1"/>
<line x1="88.15" y1="445.6" x2="88.15" y2="440.6"/>
<line x1="91.69" y1="445.6" x2="91.69" y2="440.1"/>
<line x1="95.23" y1="445.6" x2="95.23" y2="439.6"/>
<line x1="98.77" y1="445.6" x2="98.77" y2="438.7"/>
<line x1="102.31" y1="445.6" x2="102.31" y2="437.8"/>
<line x1="105.85" y1="445.6" x2="105.85" y2="438.4"/>
<line x1="109.39" y1="445.6" x2="109.39" y2="439.7"/>
<line x1="112.92" y1="445.6" x2="112.92" y2="441.0"/>
<line x1="116.46" y1="445.6" x2="116.46" y2="442.7"/>
<line x1="120.00" y1="445.6" x2="120.00" y2="444.0"/>
<line x1="123.54" y1="445.6" x2="123.54" y2="443.9"/>
<line x1="127.08" y1="445.6" x2="127.08" y2="443.9"/>
<line x1="130.62" y1="445.6" x2="130.62" y2="444.4"/>
<line x1="134.16" y1="445.6" x2="134.16" y2="445.1"/>
<line x1="137.70" y1="445.6" x2="137.70" y2="445.1"/>
<line x1="141.24" y1="445.6" x2="141.24" y2="444.3"/>
<line x1="144.78" y1="445.6" x2="144.78" y2="443.7"/>
<line x1="148.32" y1="445.6" x2="148.32" y2="444.4"/>
<line x1="151.86" y1="445.6" x2="151.86" y2="444.8"/>
<line x1="155.40" y1="445.6" x2="155.40" y2="444.9"/>
<line x1="158.94" y1="445.6" x2="158.94" y2="445.1"/>
<line x1="162.48" y1="445.6" x2="162.48" y2="446.1"/>
<line x1="166.02" y1="445.6" x2="166.02" y2="446.4"/>
<line x1="169.56" y1="445.6" x2="169.56" y2="447.5"/>
<line x1="173.10" y1="445.6" x2="173.10" y2="448.4"/>
<line x1="176.64" y1="445.6" x2="176.64" y2="447.1"/>
<line x1="180.17" y1="445.6" x2="180.17" y2="446.1"/>
<line x1="183.71" y1="445.6" x2="183.71" y2="445.1"/>
<line x1="187.25" y1="445.6" x2="187.25" y2="444.8"/>
<line x1="190.79" y1="445.6" x2="190.79" y2="444.4"/>
<line x1="194.33" y1="445.6" x2="194.33" y2="443.9"/>
<line x1="197.87" y1="445.6" x2="197.87" y2="443.4"/>
<line x1="201.41" y1="445.6" x2="201.41" y2="444.7"/>
<line x1="204.95" y1="445.6" x2="204.95" y2="445.1"/>
<line x1="208.49" y1="445.6" x2="208.49" y2="446.1"/>
<line x1="212.03" y1="445.6" x2="212.03" y2="445.1"/>
<line x1="215.57" y1="445.6" x2="215.57" y2="444.9"/>
<line x1="219.11" y1="445.6" x2="219.11" y2="445.1"/>
<line x1="222.65" y1="445.6" x2="222.65" y2="446.1"/>
<line x1="226.19" y1="445.6" x2="226.19" y2="446.1"/>
<line x1="229.73" y1="445.6" x2="229.73" y2="445.1"/>
<line x1="233.27" y1="445.6" x2="233.27" y2="443.9"/>
<line x1="236.81" y1="445.6" x2="236.81" y2="442.3"/>
<line x1="240.35" y1="445.6" x2="240.35" y2="440.5"/>
<line x1="243.89" y1="445.6" x2="243.89" y2="439.0"/>
<line x1="247.43" y1="445.6" x2="247.43" y2="438.4"/>
<line x1="250.96" y1="445.6" x2="250.96" y2="438.2"/>
<line x1="254.50" y1="445.6" x2="254.50" y2="437.8"/>
<line x1="258.04" y1="445.6" x2="258.04" y2="436.8"/>
<line x1="261.58" y1="445.6" x2="261.58" y2="435.8"/>
<line x1="265.12" y1="445.6" x2="265.12" y2="435.8"/>
<line x1="268.66" y1="445.6" x2="268.66" y2="436.2"/>
<line x1="272.20" y1="445.6" x2="272.20" y2="436.8"/>
<line x1="275.74" y1="445.6" x2="275.74" y2="437.2"/>
<line x1="279.28" y1="445.6" x2="279.28" y2="438.4"/>
<line x1="282.82" y1="445.6" x2="282.82" y2="439.9"/>
<line x1="286.36" y1="445.6" x2="286.36" y2="441.5"/>
<line x1="289.90" y1="445.6" x2="289.90" y2="443.3"/>
<line x1="293.44" y1="445.6" x2="293.44" y2="443.2"/>
<line x1="296.98" y1="445.6" x2="296.98" y2="443.1"/>
<line x1="300.52" y1="445.6" x2="300.52" y2="443.1"/>
<line x1="304.06" y1="445.6" x2="304.06" y2="443.7"/>
<line x1="307.60" y1="445.6" x2="307.60" y2="444.4"/>
<line x1="311.14" y1="445.6" x2="311.14" y2="444.9"/>
<line x1="314.68" y1="445.6" x2="314.68" y2="444.6"/>
<line x1="318.22" y1="445.6" x2="318.22" y2="444.2"/>
<line x1="321.75" y1="445.6" x2="321.75" y2="444.1"/>
<line x1="325.29" y1="445.6" x2="325.29" y2="444.4"/>
<line x1="328.83" y1="445.6" x2="328.83" y2="444.7"/>
<line x1="332.37" y1="445.6" x2="332.37" y2="446.3"/>
<line x1="335.91" y1="445.6" x2="335.91" y2="447.5"/>
<line x1="339.45" y1="445.6" x2="339.45" y2="448.1"/>
<line x1="342.99" y1="445.6" x2="342.99" y2="448.4"/>
<line x1="346.53" y1="445.6" x2="346.53" y2="449.8"/>
<line x1="350.07" y1="445.6" x2="350.07" y2="451.7"/>
<line x1="353.61" y1="445.6" x2="353.61" y2="452.7"/>
<line x1="357.15" y1="445.6" x2="357.15" y2="453.3"/>
<line x1="360.69" y1="445.6" x2="360.69" y2="453.7"/>
<line x1="364.23" y1="445.6" x2="364.23" y2="453.4"/>
<line x1="367.77" y1="445.6" x2="367.77" y2="453.1"/>
<line x1="371.31" y1="445.6" x2="371.31" y2="448.8"/>
<line x1="374.85" y1="445.6" x2="374.85" y2="446.5"/>
<line x1="378.39" y1="445.6" x2="378.39" y2="446.1"/>
<line x1="381.93" y1="445.6" x2="381.93" y2="446.1"/>
<line x1="385.47" y1="445.6" x2="385.47" y2="446.3"/>
<line x1="389.01" y1="445.6" x2="389.01" y2="445.1"/>
<line x1="392.54" y1="445.6" x2="392.54" y2="445.1"/>
<line x1="396.08" y1="445.6" x2="396.08" y2="446.1"/>
<line x1="399.62" y1="445.6" x2="399.62" y2="447.8"/>
<line x1="403.16" y1="445.6" x2="403.16" y2="447.3"/>
<line x1="406.70" y1="445.6" x2="406.70" y2="446.5"/>
<line x1="410.24" y1="445.6" x2="410.24" y2="446.1"/>
<line x1="413.78" y1="445.6" x2="413.78" y2="447.0"/>
<line x1="417.32" y1="445.6" x2="417.32" y2="448.2"/>
<line x1="420.86" y1="445.6" x2="420.86" y2="448.8"/>
<line x1="424.40" y1="445.6" x2="424.40" y2="448.7"/>
<line x1="427.94" y1="445.6" x2="427.94" y2="449.2"/>
<line x1="431.48" y1="445.6" x2="431.48" y2="450.1"/>
<line x1="435.02" y1="445.6" x2="435.02" y2="451.0"/>
<line x1="438.56" y1="445.6" x2="438.56" y2="451.4"/>
<line x1="442.10" y1="445.6" x2="442.10" y2="449.5"/>
<line x1="445.64" y1="445.6" x2="445.64" y2="447.8"/>
<line x1="449.18" y1="445.6" x2="449.18" y2="447.5"/>
<line x1="452.72" y1="445.6" x2="452.72" y2="447.7"/>
<line x1="456.26" y1="445.6" x2="456.26" y2="446.5"/>
<line x1="459.80" y1="445.6" x2="459.80" y2="445.1"/>
<line x1="463.33" y1="445.6" x2="463.33" y2="444.7"/>
<line x1="466.87" y1="445.6" x2="466.87" y2="445.1"/>
<line x1="470.41" y1="445.6" x2="470.41" y2="446.1"/>
<line x1="473.95" y1="445.6" x2="473.95" y2="446.8"/>
<line x1="477.49" y1="445.6" x2="477.49" y2="447.6"/>
<line x1="481.03" y1="445.6" x2="481.03" y2="446.4"/>
<line x1="484.57" y1="445.6" x2="484.57" y2="445.1"/>
<line x1="488.11" y1="445.6" x2="488.11" y2="446.1"/>
<line x1="491.65" y1="445.6" x2="491.65" y2="446.4"/>
<line x1="495.19" y1="445.6" x2="495.19" y2="446.3"/>
<line x1="498.73" y1="445.6" x2="498.73" y2="445.1"/>
<line x1="502.27" y1="445.6" x2="502.27" y2="444.0"/>
<line x1="505.81" y1="445.6" x2="505.81" y2="443.5"/>
<line x1="509.35" y1="445.6" x2="509.35" y2="443.7"/>
<line x1="512.89" y1="445.6" x2="512.89" y2="443.5"/>
<line x1="516.43" y1="445.6" x2="516.43" y2="443.4"/>
<line x1="519.97" y1="445.6" x2="519.97" y2="441.4"/>
<line x1="523.51" y1="445.6" x2="523.51" y2="438.8"/>
</g>
<polyline points="3.0,466.4 12.0,469.0 20.0,473.0 30.0,476.4 37.0,477.0 46.0,475.0 56.0,470.0 64.0,466.6 74.0,465.0 84.0,462.4 96.0,458.6 106.0,453.0 116.0,449.6 128.0,448.0 140.0,447.2 150.0,446.4 160.0,447.4 170.0,450.0 180.0,450.4 190.0,449.0 200.0,447.0 210.0,448.0 220.0,448.4 230.0,449.0 238.0,447.0 246.0,443.0 254.0,438.0 262.0,432.5 270.0,427.0 280.0,422.0 290.0,420.0 300.0,419.0 310.0,417.6 320.0,417.4 330.0,415.0 340.0,416.4 350.0,419.0 360.0,423.0 370.0,427.0 380.0,428.6 390.0,428.8 400.0,431.0 410.0,431.4 420.0,432.0 430.0,435.0 440.0,438.0 450.0,440.0 460.0,439.6 470.0,440.0 480.0,441.4 490.0,442.6 496.0,442.4 504.0,441.0 512.0,440.0 520.0,437.6" fill="none" stroke="#f43c3c" stroke-width="1.2" stroke-dasharray="3 2"/>
<polyline points="3.0,470.4 10.0,473.0 20.0,478.4 30.0,478.6 35.0,479.4 40.0,477.6 46.0,472.4 54.0,464.0 62.0,459.4 66.0,460.6 71.0,463.6 77.0,462.6 84.0,458.4 96.0,453.0 104.0,446.6 114.0,446.4 120.0,447.6 128.0,446.4 136.0,447.3 145.0,445.0 156.0,446.4 164.0,448.6 172.0,453.0 182.0,450.0 190.0,448.0 198.0,445.4 208.0,448.0 216.0,447.6 222.0,449.0 230.0,448.6 236.0,445.0 244.0,438.0 254.0,431.0 262.0,423.5 268.0,419.6 278.0,415.6 284.0,416.4 290.0,418.0 300.0,416.6 312.0,417.0 322.0,415.6 329.0,414.4 336.0,417.6 344.0,420.0 352.0,426.0 360.0,430.4 368.0,433.0 373.0,428.6 380.0,428.6 384.0,429.6 390.0,428.5 396.0,430.4 400.0,433.2 410.0,431.6 418.0,434.4 426.0,436.6 438.0,443.0 446.0,441.0 452.0,442.0 462.0,438.6 470.0,440.4 478.0,443.0 484.0,441.6 490.0,443.4 496.0,443.0 504.0,439.0 510.0,438.6 516.0,437.0 523.0,431.4" fill="none" stroke="#4444f6" stroke-width="1.2" stroke-linejoin="round"/>
<g class="ax">
<line x1="3.2" y1="483" x2="3.2" y2="486.2" stroke="#222"/>
<text x="2.2" y="493.8" textLength="44.1" lengthAdjust="spacingAndGlyphs">19 Jan 2018</text>
<line x1="59.8" y1="483" x2="59.8" y2="486.2" stroke="#222"/>
<text x="58.8" y="493.8" textLength="44.9" lengthAdjust="spacingAndGlyphs">12 Feb 2018</text>
<line x1="116.5" y1="483" x2="116.5" y2="486.2" stroke="#222"/>
<text x="115.5" y="493.8" textLength="40.9" lengthAdjust="spacingAndGlyphs">6 Mar 2018</text>
<line x1="173.1" y1="483" x2="173.1" y2="486.2" stroke="#222"/>
<text x="172.1" y="493.8" textLength="45.4" lengthAdjust="spacingAndGlyphs">27 Mar 2018</text>
<line x1="229.7" y1="483" x2="229.7" y2="486.2" stroke="#222"/>
<text x="228.7" y="493.8" textLength="44.2" lengthAdjust="spacingAndGlyphs">19 Apr 2018</text>
<line x1="286.4" y1="483" x2="286.4" y2="486.2" stroke="#222"/>
<text x="285.4" y="493.8" textLength="46.5" lengthAdjust="spacingAndGlyphs">11 May 2018</text>
<line x1="343.0" y1="483" x2="343.0" y2="486.2" stroke="#222"/>
<text x="342.0" y="493.8" textLength="39.9" lengthAdjust="spacingAndGlyphs">4 Jun 2018</text>
<line x1="399.6" y1="483" x2="399.6" y2="486.2" stroke="#222"/>
<text x="398.6" y="493.8" textLength="44.4" lengthAdjust="spacingAndGlyphs">25 Jun 2018</text>
<line x1="456.3" y1="483" x2="456.3" y2="486.2" stroke="#222"/>
<text x="455.3" y="493.8" textLength="41.6" lengthAdjust="spacingAndGlyphs">17 Jul 2018</text>
<line x1="512.9" y1="483" x2="512.9" y2="486.2" stroke="#222"/>
<text x="511.9" y="493.8" textLength="41.3" lengthAdjust="spacingAndGlyphs">8 Aug 2018</text>
</g>
</svg>
</body></html>
